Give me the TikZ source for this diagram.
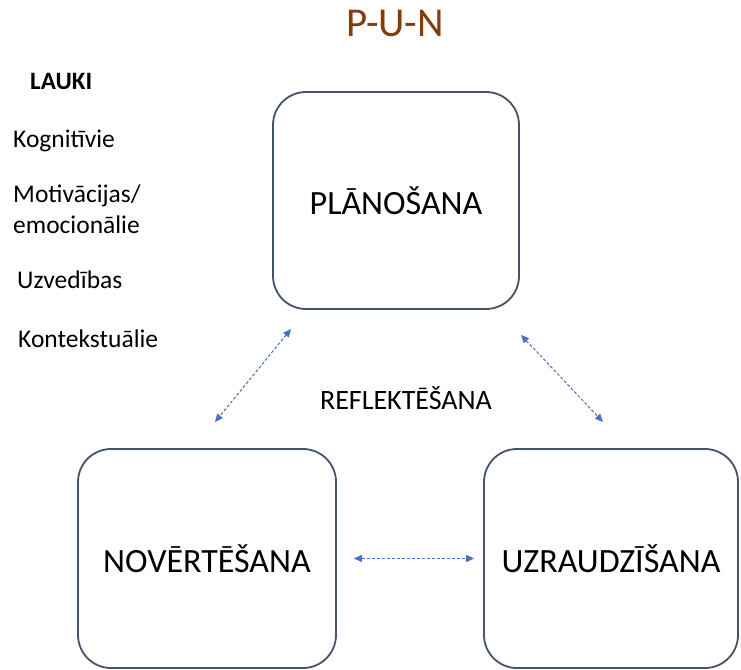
\documentclass[tikz,border=0pt]{standalone}
\usepackage{fontspec}
\setmainfont{Carlito}
\usetikzlibrary{arrows.meta, positioning}
\definecolor{brunsVirsraksts}{RGB}{132, 60, 12}
\definecolor{peleksZils}{RGB}{68, 84, 106}
\definecolor{zilaBulta}{RGB}{68, 114, 196}

\begin{document}
\begin{tikzpicture}[x=1pt, y=-1pt,
    kaste/.style={rectangle, rounded corners=33pt, draw=peleksZils, line width=1.8pt, inner sep=0pt, align=center, font=\fontsize{34}{40}\selectfont},
    saraksts/.style={anchor=base west, inner sep=0pt, align=left, font=\fontsize{25.5}{31}\selectfont},
    bulta/.style={{Triangle[length=8pt,width=7pt]}-{Triangle[length=8pt,width=7pt]}, dash pattern=on 3pt off 2pt, line width=1pt, zilaBulta}]

    \useasboundingbox (0,0) rectangle (741,669);

    \node[anchor=base, text=brunsVirsraksts, font=\fontsize{41}{48}\selectfont] (virsraksts) at (395,37) {P-U-N};

    % lauki
    \node[saraksts, font=\fontsize{25}{30}\selectfont\bfseries] (lauki) at (30,89) {LAUKI};
    \node[saraksts] (kogn) at (13,147) {Kognitīvie};
    \node[saraksts] (motiv) at (13,233) {Motivācijas/\\emocionālie};
    \node[saraksts] (uzv) at (17,288) {Uzvedības};
    \node[saraksts] (kont) at (18,347) {Kontekstuālie};

    \node[kaste, minimum width=246pt, minimum height=217pt] (plan) at (396,200.5) {PLĀNOŠANA};
    \node[kaste, minimum width=258pt, minimum height=219pt] (nov) at (207,558.5) {NOVĒRTĒŠANA};
    \node[kaste, minimum width=254pt, minimum height=219pt] (uzr) at (611,558.5) {UZRAUDZĪŠANA};

    \node[anchor=base, font=\fontsize{28}{34}\selectfont] (refl) at (406,409) {REFLEKTĒŠANA};

    \coordinate (planKr) at (291,329);
    \coordinate (novAug) at (215,422);
    \coordinate (planLab) at (521,335);
    \coordinate (uzrAug) at (603,422);

    \draw[bulta] (planKr) -- (novAug);
    \draw[bulta] (planLab) -- (uzrAug);
    \draw[bulta, shorten <=17pt, shorten >=9pt] (nov.east) -- (uzr.west);
\end{tikzpicture}
\end{document}
